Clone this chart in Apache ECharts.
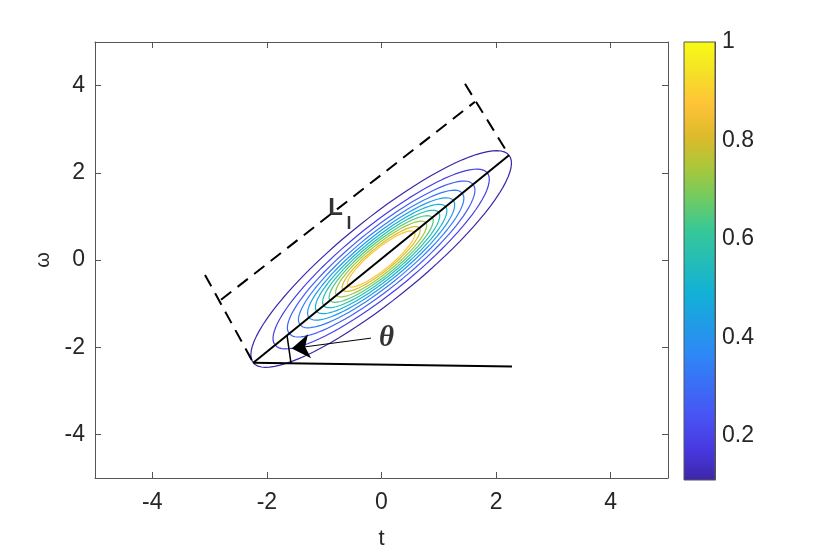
<!DOCTYPE html>
<html><head><meta charset="utf-8">
<script src="https://cdn.jsdelivr.net/npm/echarts@6/dist/echarts.min.js"></script>
<style>html,body{margin:0;padding:0;background:#fff}#c{width:830px;height:555px}</style>
</head><body><div id="c"></div><script>
// ---- data ----
const xTicks = [-4, -2, 0, 2, 4];
const yTicks = [-4, -2, 0, 2, 4];
const colorbarTicks = [0.2, 0.4, 0.6, 0.8, 1];
const colorbarRange = [0.11, 1];
const contourLevels = [0.11, 0.187, 0.264, 0.341, 0.418, 0.495, 0.572, 0.649, 0.726, 0.803, 0.88];
const contourScale  = [1, 0.83, 0.72, 0.635, 0.565, 0.505, 0.45, 0.40, 0.35, 0.30, 0.26];
const peakCenter = [-0.006, 0.023];
const outerMajorHalf = [2.231, 2.381];
const outerMinorHalf = [0.44, -0.71];
const majorAxisLine = [[-2.237, -2.358], [2.225, 2.404]];
const baseLine = [[-2.237, -2.358], [2.277, -2.443]];
const angleTick = [[-1.649, -1.730], [-1.579, -2.372]];
const dashLower = [[-3.080, -0.342], [-2.237, -2.358]];
const dashUpper = [[1.457, 4.041], [2.225, 2.404]];
const dashParallel = [[-2.801, -0.913], [1.632, 3.630]];
const arrowLine = [[-0.183, -1.792], [-1.567, -2.032]];
const labelL = [-0.803, 1.187];
const labelSub = [-0.567, 0.822];
const labelTheta = [0.087, -1.804];

// parula colormap stops
const parula = [
  [0, '#3e26a8'], [0.0714, '#4739e0'], [0.1429, '#4852f4'], [0.2857, '#2e87f7'],
  [0.4286, '#12b1d6'], [0.5714, '#37c897'], [0.6429, '#71cb61'], [0.7143, '#abc739'],
  [0.7857, '#dfba2b'], [0.8571, '#fec338'], [0.9286, '#f5e027'], [1, '#f9fb15']
];
function hex2rgb(h){return [1,3,5].map(i=>parseInt(h.substr(i,2),16));}
function cmap(v){
  let t=(v-colorbarRange[0])/(colorbarRange[1]-colorbarRange[0]);
  t=Math.max(0,Math.min(1,t));
  for(let i=1;i<parula.length;i++){
    if(t<=parula[i][0]){
      const a=parula[i-1],b=parula[i];const f=(t-a[0])/(b[0]-a[0]);
      const ca=hex2rgb(a[1]),cb=hex2rgb(b[1]);
      return 'rgb('+ca.map((c,k)=>Math.round(c+(cb[k]-c)*f)).join(',')+')';
    }
  }
  return parula[parula.length-1][1];
}
function ellipse(s){
  const pts=[];const N=90;
  for(let j=0;j<=N;j++){const t=2*Math.PI*j/N;
    pts.push([peakCenter[0]+s*(outerMajorHalf[0]*Math.cos(t)+outerMinorHalf[0]*Math.sin(t)),
              peakCenter[1]+s*(outerMajorHalf[1]*Math.cos(t)+outerMinorHalf[1]*Math.sin(t))]);}
  return pts;
}
const axisColor='#555555', textColor='#262626';
const font='"Liberation Sans", Arial, Helvetica, sans-serif';
const fs=23;

const series=[];
contourLevels.forEach((lv,i)=>{
  series.push({type:'line',xAxisIndex:0,yAxisIndex:0,data:ellipse(contourScale[i]),showSymbol:false,symbol:'none',
    lineStyle:{color:cmap(lv),width:1.2},silent:true,z:2});
});
function seg(data,width,type){
  return {type:'line',xAxisIndex:0,yAxisIndex:0,data:data,showSymbol:false,symbol:'none',
    lineStyle:{color:'#000',width:width,type:type||'solid'},silent:true,z:5};
}
series.push(seg(majorAxisLine,2));
series.push(seg(baseLine,2));
series.push(seg(angleTick,1.5));
series.push(seg(dashLower,2,[13,8]));
series.push(seg(dashUpper,2,[13,8]));
series.push(seg(dashParallel,2,[13,8]));
series.push({type:'lines',coordinateSystem:'cartesian2d',xAxisIndex:0,yAxisIndex:0,
  data:[{coords:arrowLine}],symbol:['none','arrow'],symbolSize:[11,18],
  lineStyle:{color:'#000',width:1,opacity:1},itemStyle:{color:'#000'},silent:true,z:6});
series.push({type:'scatter',xAxisIndex:0,yAxisIndex:0,symbolSize:1,itemStyle:{color:'transparent'},silent:true,z:7,
  data:[
    {value:labelL,label:{show:true,position:'inside',formatter:'L',fontSize:24,fontWeight:'bold',fontFamily:font,color:'#000'}},
    {value:labelSub,label:{show:true,position:'inside',formatter:'l',fontSize:18,fontWeight:'bold',fontFamily:font,color:'#000'}},
    {value:labelTheta,label:{show:true,position:'inside',formatter:'θ',fontSize:29,fontWeight:'bold',fontStyle:'italic',fontFamily:'"Liberation Serif", "Times New Roman", serif',color:'#000'}}
  ]});
// colorbar
series.push({type:'custom',xAxisIndex:2,yAxisIndex:2,data:[[0,colorbarRange[0]]],silent:true,clip:false,
  renderItem:function(params,api){
    const p0=api.coord([0,colorbarRange[1]]);const p1=api.coord([1,colorbarRange[0]]);
    return {type:'rect',shape:{x:p0[0],y:p0[1],width:p1[0]-p0[0],height:p1[1]-p0[1]},
      style:{fill:new echarts.graphic.LinearGradient(0,1,0,0,parula.map(s=>({offset:s[0],color:s[1]}))),stroke:axisColor,lineWidth:1}};
  }});

function mainAxis(pos,labels,extra){
  return Object.assign({type:'value',gridIndex:0,min:-5,max:5,position:pos,
    axisLine:{show:true,onZero:false,lineStyle:{color:axisColor,width:1}},
    axisTick:{show:true,inside:true,length:6,customValues:xTicks,lineStyle:{color:axisColor}},
    axisLabel:{show:labels,customValues:xTicks,fontSize:fs,color:textColor,fontFamily:font},
    splitLine:{show:false}},extra||{});
}
const option={
  animation:false,
  backgroundColor:'#fff',
  grid:[{left:95,top:42,width:573,height:438},{left:684,top:42,width:31,height:438}],
  xAxis:[
    mainAxis('bottom',true,{name:'t',nameLocation:'middle',nameGap:50,nameTextStyle:{fontSize:22,color:textColor,fontFamily:font},
      axisLabel:{show:true,customValues:xTicks,fontSize:fs,color:textColor,fontFamily:font,margin:13}}),
    mainAxis('top',false),
    {type:'value',gridIndex:1,min:0,max:1,show:false}
  ],
  yAxis:[
    mainAxis('left',true,{name:'ω',nameLocation:'middle',nameGap:41,nameTextStyle:{fontSize:20,color:textColor,fontFamily:font},
      axisTick:{show:true,inside:true,length:6,customValues:yTicks,lineStyle:{color:axisColor}},
      axisLabel:{show:true,customValues:yTicks,fontSize:fs,color:textColor,fontFamily:font,margin:10}}),
    mainAxis('right',false,{axisTick:{show:true,inside:true,length:6,customValues:yTicks,lineStyle:{color:axisColor}}}),
    {type:'value',gridIndex:1,min:colorbarRange[0],max:colorbarRange[1],position:'right',
      axisLine:{show:true,onZero:false,lineStyle:{color:axisColor}},
      axisTick:{show:true,inside:true,length:4,customValues:colorbarTicks,lineStyle:{color:axisColor}},
      axisLabel:{show:true,customValues:colorbarTicks,fontSize:fs,color:textColor,fontFamily:font,margin:7,formatter:v=>String(v)},
      splitLine:{show:false}}
  ],
  series:series
};
const chart=echarts.init(document.getElementById('c'),null,{renderer:'canvas'});
chart.setOption(option);
</script></body></html>
